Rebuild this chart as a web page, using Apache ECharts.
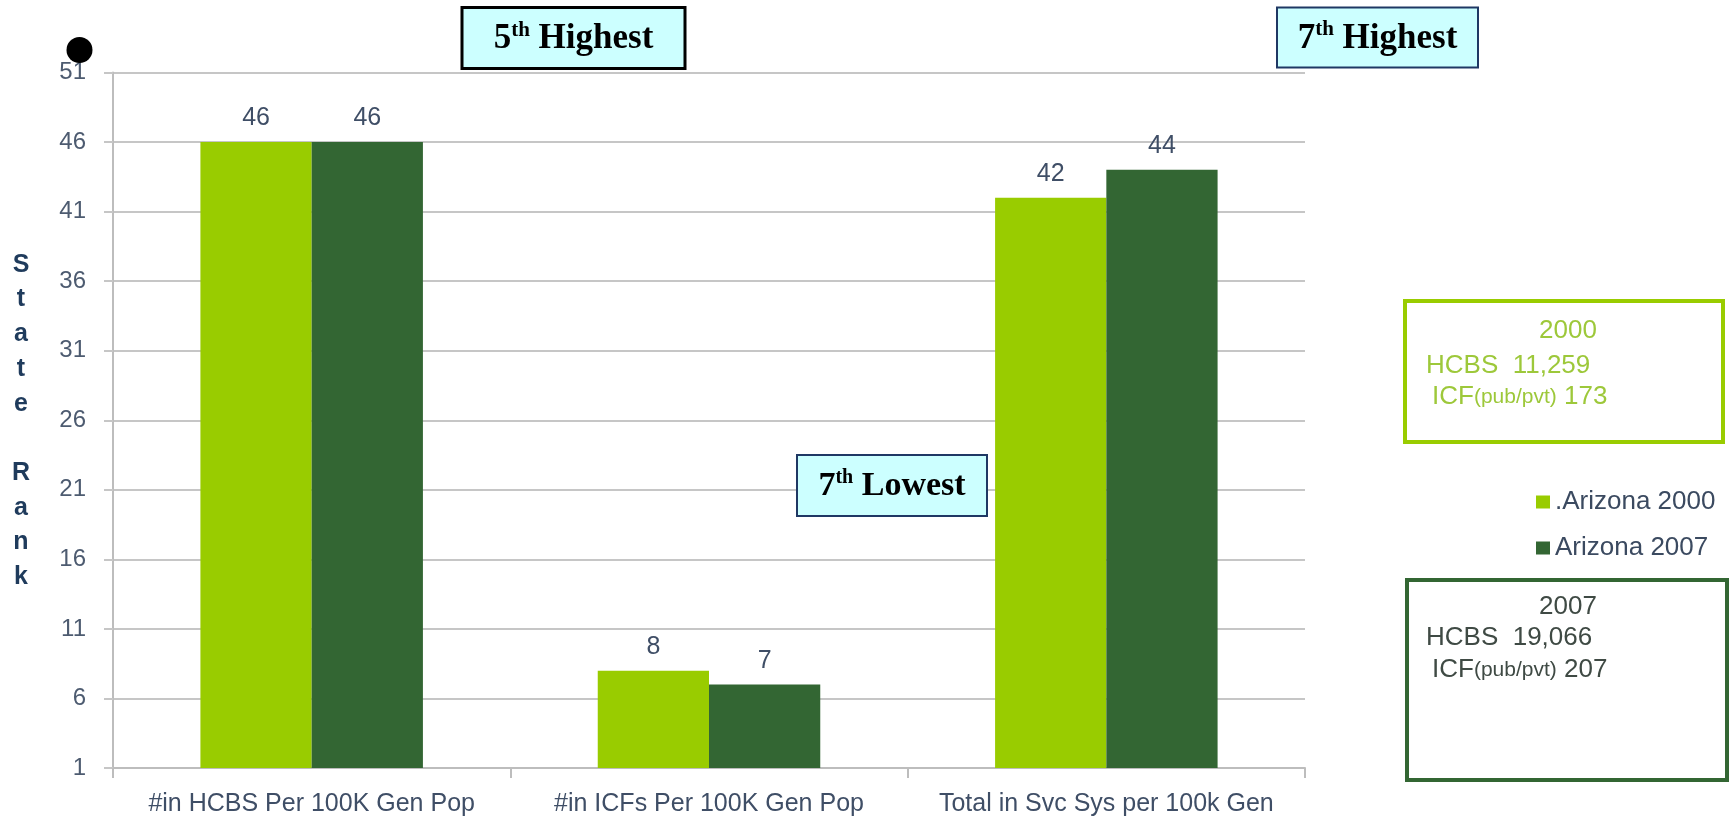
<!DOCTYPE html>
<html>
<head>
<meta charset="utf-8">
<script src="https://cdn.jsdelivr.net/npm/echarts@6/dist/echarts.min.js"></script>
<style>
html,body{margin:0;padding:0;background:#ffffff;}
#chart{width:1732px;height:825px;}
</style>
</head>
<body>
<div id="chart"></div>
<script>
// ---- data ----
const categories = ['#in HCBS Per 100K Gen Pop', '#in ICFs Per 100K Gen Pop', 'Total in Svc Sys per 100k Gen'];
const seriesNames = ['.Arizona 2000', 'Arizona 2007'];
const arizona2000 = [46, 8, 42];
const arizona2007 = [46, 7, 44];
const yMin = 1;
const yMax = 51;
const yInterval = 5;
const yAxisTitle = 'S\nt\na\nt\ne\n\nR\na\nn\nk';
const calloutNums = ['5', '7', '7'];
const calloutWords = [' Highest', ' Highest', ' Lowest'];
const box2000Lines = ['2000', 'HCBS  11,259', '173'];
const box2007Lines = ['2007', 'HCBS  19,066', '207'];

// ---- style ----
const C_LIGHT = '#99cc00';
const C_DARK = '#336633';
const C_TEXT = '#3f4e66';
const C_GRID = '#c6c6c6';
const SANS = 'Arial, "Liberation Sans", sans-serif';
const SERIF = '"Book Antiqua", Palatino, "Liberation Serif", serif';

function callout(i, x, y, w, h, stroke, lw, fs) {
  return [
    { type: 'rect', z: 50, shape: { x: x, y: y, width: w, height: h },
      style: { fill: '#ccffff', stroke: stroke, lineWidth: lw } },
    { type: 'text', z: 51, x: x + w / 2, y: y + h / 2 + 1,
      style: {
        text: '{n|' + calloutNums[i] + '}{s|th}{n|' + calloutWords[i] + '}',
        align: 'center', verticalAlign: 'middle',
        rich: {
          n: { fontSize: fs, fontWeight: 'bold', fontFamily: SERIF, fill: '#000', lineHeight: 38 },
          s: { fontSize: Math.round(fs * 0.6), fontWeight: 'bold', fontFamily: SERIF, fill: '#000', verticalAlign: 'top', lineHeight: 24 }
        }
      } }
  ];
}

function infoBox(lines, x, y, w, h, stroke, color, cy) {
  return [
    { type: 'rect', z: 50, shape: { x: x, y: y, width: w, height: h },
      style: { fill: 'rgba(0,0,0,0)', stroke: stroke, lineWidth: 4 } },
    { type: 'text', z: 51, x: 1568, y: cy[0],
      style: { text: lines[0], align: 'center', verticalAlign: 'middle', font: '26px ' + SANS, fill: color } },
    { type: 'text', z: 51, x: 1426, y: cy[1],
      style: { text: lines[1], align: 'left', verticalAlign: 'middle', font: '26px ' + SANS, fill: color } },
    { type: 'text', z: 51, x: 1432, y: cy[2],
      style: {
        text: '{b|ICF}{s|(pub/pvt)}{b| ' + lines[2] + '}',
        align: 'left', verticalAlign: 'middle',
        rich: {
          b: { fontSize: 26, fontFamily: SANS, fill: color, lineHeight: 26 },
          s: { fontSize: 21, fontFamily: SANS, fill: color, verticalAlign: 'middle', lineHeight: 22 }
        }
      } }
  ];
}

const chart = echarts.init(document.getElementById('chart'), null, { renderer: 'canvas' });

const option = {
  animation: false,
  backgroundColor: '#ffffff',
  grid: { left: 113, right: 427, top: 72.5, bottom: 57, containLabel: false, outerBoundsMode: 'none' },
  legend: {
    orient: 'vertical',
    left: 1531,
    top: 484,
    itemWidth: 14,
    itemHeight: 13,
    itemGap: 20,
    icon: 'rect',
    data: seriesNames,
    textStyle: { fontSize: 26, fontFamily: SANS, color: '#3b4a60', lineHeight: 26 }
  },
  xAxis: {
    type: 'category',
    data: categories,
    axisLine: { show: true, lineStyle: { color: '#bdbdbd', width: 2 } },
    axisTick: { show: true, length: 10, lineStyle: { color: '#bdbdbd', width: 2 } },
    axisLabel: { fontSize: 25, fontFamily: SANS, color: C_TEXT, margin: 24, interval: 0 },
    splitLine: { show: false }
  },
  yAxis: {
    type: 'value',
    min: yMin,
    max: yMax,
    interval: yInterval,
    axisLine: { show: true, lineStyle: { color: '#bdbdbd', width: 2 } },
    axisTick: { show: true, length: 9, lineStyle: { color: C_GRID, width: 2 } },
    axisLabel: { fontSize: 24, fontFamily: SANS, color: '#4d5b70', margin: 27 },
    splitLine: { show: true, lineStyle: { color: C_GRID, width: 2 } }
  },
  series: [
    {
      name: seriesNames[0], type: 'bar', data: arizona2000,
      barWidth: '28%', barGap: '0%',
      itemStyle: { color: C_LIGHT },
      label: { show: true, position: 'top', distance: 11, fontSize: 25, fontFamily: SANS, color: C_TEXT }
    },
    {
      name: seriesNames[1], type: 'bar', data: arizona2007,
      barWidth: '28%', barGap: '0%',
      itemStyle: { color: C_DARK },
      label: { show: true, position: 'top', distance: 11, fontSize: 25, fontFamily: SANS, color: C_TEXT }
    }
  ],
  graphic: [].concat(
    [{ type: 'text', z: 40, x: 21, y: 247.5,
       style: { text: yAxisTitle, align: 'center', verticalAlign: 'top', lineHeight: 34.7,
                font: 'bold 25px ' + SANS, fill: '#1f3b5c' } },
     { type: 'circle', z: 40, shape: { cx: 79.5, cy: 50, r: 13 }, style: { fill: '#000' } }],
    callout(0, 462, 7.5, 223, 61, '#000000', 3, 35),
    callout(1, 1277, 7.5, 201, 60, '#1f3864', 2, 35),
    callout(2, 797, 455, 190, 61, '#1f3864', 2, 34),
    infoBox(box2000Lines, 1405, 301, 318, 141, '#99cc00', '#9dc83a', [331, 366, 397]),
    infoBox(box2007Lines, 1407, 580, 320, 200, '#336633', '#3f4a44', [607, 638, 670])
  )
};

chart.setOption(option);
</script>
</body>
</html>
